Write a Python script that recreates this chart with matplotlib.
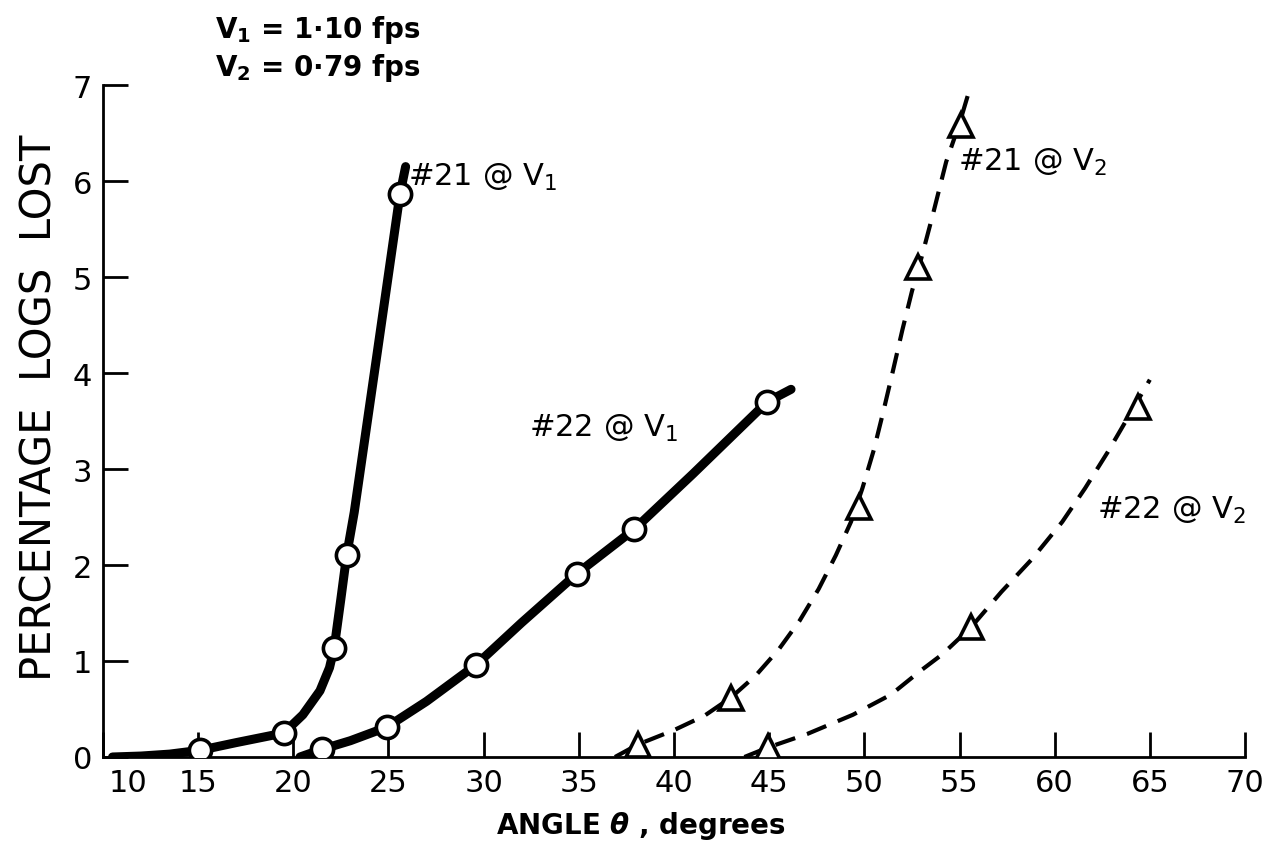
import matplotlib
matplotlib.use("Agg")
import matplotlib.pyplot as plt
from matplotlib.transforms import ScaledTranslation

plt.rcParams['font.family'] = ['DejaVu Sans']
plt.rcParams['mathtext.fontset'] = 'custom'
plt.rcParams['mathtext.rm'] = 'DejaVu Sans'
plt.rcParams['mathtext.it'] = 'DejaVu Sans:italic:bold'
plt.rcParams['mathtext.bf'] = 'DejaVu Sans:bold'

# measured points
p21v1_x = [15.1, 19.5, 22.15, 22.8, 25.6]
p21v1_y = [0.07, 0.25, 1.14, 2.10, 5.86]
p22v1_x = [21.5, 24.9, 29.6, 34.9, 37.9, 44.9]
p22v1_y = [0.08, 0.31, 0.96, 1.91, 2.37, 3.70]
p21v2_x = [38.1, 43.0, 49.7, 52.8, 55.1]
p21v2_y = [0.13, 0.61, 2.60, 5.10, 6.58]
p22v2_x = [44.95, 55.6, 64.4]
p22v2_y = [0.10, 1.35, 3.65]

# faired curves
c21v1_x = [10.5, 12.0, 13.5, 15.1, 17.0, 19.5, 20.5, 21.4, 21.9, 22.15, 22.5, 22.8, 23.2, 24.4, 25.6, 25.9]
c21v1_y = [0.0, 0.01, 0.03, 0.07, 0.15, 0.25, 0.44, 0.69, 0.93, 1.14, 1.65, 2.10, 2.55, 4.2, 5.86, 6.15]
c22v1_x = [20.35, 21.5, 23.0, 24.9, 27.0, 29.6, 32.0, 34.9, 37.9, 41.0, 44.9, 46.15]
c22v1_y = [0.0, 0.08, 0.17, 0.31, 0.58, 0.96, 1.40, 1.91, 2.37, 2.95, 3.70, 3.83]
c21v2_x = [36.9, 38.1, 40.0, 41.6, 43.0, 44.3, 45.5, 46.6, 47.6, 48.5, 49.3, 49.9,
           50.5, 51.0, 51.5, 52.0, 52.5, 53.0, 53.6, 54.3, 55.0, 55.45]
c21v2_y = [0.0, 0.13, 0.28, 0.43, 0.62, 0.85, 1.12, 1.42, 1.75, 2.10, 2.45, 2.80,
           3.20, 3.60, 4.02, 4.45, 4.85, 5.20, 5.65, 6.20, 6.60, 6.90]
c22v2_x = [43.7, 44.95, 47.0, 49.4, 51.4, 52.9, 54.1, 55.6, 57.2, 58.8, 60.4, 61.6, 62.8, 63.8, 65.0]
c22v2_y = [0.0, 0.10, 0.24, 0.44, 0.65, 0.89, 1.07, 1.35, 1.72, 2.06, 2.45, 2.80, 3.18, 3.52, 3.93]

xticks = [10, 15, 20, 25, 30, 35, 40, 45, 50, 55, 60, 65, 70]
yticks = [0, 1, 2, 3, 4, 5, 6, 7]

fig = plt.figure(figsize=(12.7, 8.54), dpi=100)
ax = fig.add_axes([103 / 1270, 1 - 758 / 854, 1142 / 1270, 672 / 854])

ax.plot(c21v1_x, c21v1_y, color='black', lw=6.5, solid_capstyle='round', zorder=3)
ax.plot(c22v1_x, c22v1_y, color='black', lw=6.5, solid_capstyle='round', zorder=3)
ax.plot(c21v2_x, c21v2_y, color='black', lw=3.0, ls=(0, (5, 3.0)), zorder=3)
ax.plot(c22v2_x, c22v2_y, color='black', lw=3.0, ls=(0, (5, 3.0)), zorder=3)

ax.plot(p21v1_x, p21v1_y, 'o', ms=16, mfc='white', mec='black', mew=2.6, zorder=4)
ax.plot(p22v1_x, p22v1_y, 'o', ms=16, mfc='white', mec='black', mew=2.6, zorder=4)
ax.plot(p21v2_x, p21v2_y, '^', ms=17, mfc='white', mec='black', mew=2.6, zorder=4)
ax.plot(p22v2_x, p22v2_y, '^', ms=17, mfc='white', mec='black', mew=2.6, zorder=4)

ax.set_xlim(10, 70)
ax.set_ylim(0, 7)
ax.set_xticks(xticks)
ax.set_yticks(yticks)
ax.spines['top'].set_visible(False)
ax.spines['right'].set_visible(False)
ax.spines['left'].set_linewidth(2)
ax.spines['bottom'].set_linewidth(2)
ax.tick_params(direction='in', length=18, width=2, labelsize=22)
ax.tick_params(axis='x', pad=8)
ax.tick_params(axis='y', pad=8)

# the "10" sits a little right of the corner, clear of the "0"
first = ax.xaxis.get_major_ticks()[0].label1
first.set_transform(first.get_transform() + ScaledTranslation(0.25, 0, fig.dpi_scale_trans))

fig.text(641 / 1270, 1 - 826 / 854, r'ANGLE $\theta$ , degrees', fontsize=20,
         fontweight='bold', ha='center', va='center')
fig.text(40 / 1270, 1 - 408 / 854, 'PERCENTAGE  LOGS  LOST', fontsize=30,
         rotation=90, ha='center', va='center')

ax.text(26.0, 6.05, r'#21 @ V$_1$', fontsize=22, va='center')
ax.text(32.4, 3.43, r'#22 @ V$_1$', fontsize=22, va='center')
ax.text(54.9, 6.2, r'#21 @ V$_2$', fontsize=22, va='center')
ax.text(62.2, 2.58, r'#22 @ V$_2$', fontsize=22, va='center')

fig.text(215 / 1270, 1 - 30 / 854, r'V$_\mathbf{1}$ = 1·10 fps', fontsize=20,
         fontweight='bold', va='center')
fig.text(215 / 1270, 1 - 68 / 854, r'V$_\mathbf{2}$ = 0·79 fps', fontsize=20,
         fontweight='bold', va='center')

fig.savefig('out.png', dpi=100)
